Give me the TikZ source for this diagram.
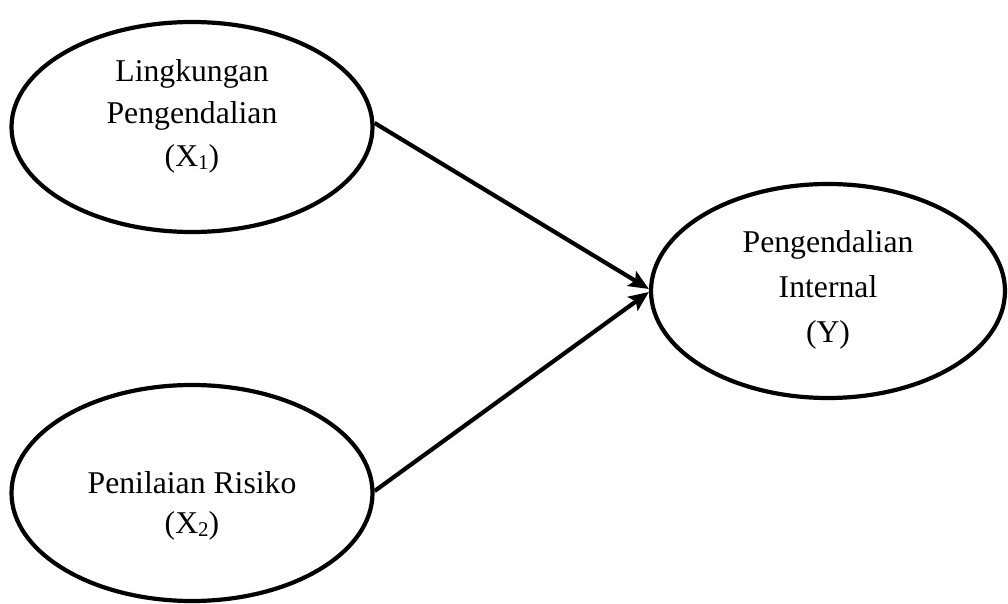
\documentclass[tikz,border=0pt]{standalone}
\usepackage{fontspec}
\setmainfont{Liberation Serif}
\usetikzlibrary{shapes.geometric,arrows.meta}
\newcommand{\subn}[1]{\raisebox{-0.12em}{\fontsize{21}{21}\selectfont #1}}
\tikzset{
  var/.style={draw, ellipse, line width=4.2pt, inner sep=0pt},
  lbl/.style={align=center, inner sep=0pt},
  link/.style={line width=4.2pt, -{Stealth[length=20pt,width=17pt,inset=4pt]}}
}
\begin{document}
\begin{tikzpicture}[x=1pt,y=1pt]
\useasboundingbox (0,0) rectangle (1008,603);
\node[var, minimum width=361pt, minimum height=210pt] (x1) at (192,476) {};
\node[var, minimum width=361pt, minimum height=216pt] (x2) at (192,110) {};
\node[var, minimum width=354pt, minimum height=214pt] (y) at (828,312) {};
\node[lbl, font=\fontsize{31.7}{42.5}\selectfont] (x1t) at (192,487)
  {Lingkungan\\Pengendalian\\(X\subn{1})};
\node[lbl, font=\fontsize{31.7}{40}\selectfont] (x2t) at (192,97.5)
  {Penilaian Risiko\\(X\subn{2})};
\node[lbl, font=\fontsize{31.7}{45}\selectfont] (yt) at (828,313.5)
  {Pengendalian\\Internal\\(Y)};
\draw[link] ([yshift=4pt]x1.east) -- ([yshift=2pt]y.west);
\draw[link] ([yshift=2pt]x2.east) -- ([yshift=-1pt]y.west);
\end{tikzpicture}
\end{document}
